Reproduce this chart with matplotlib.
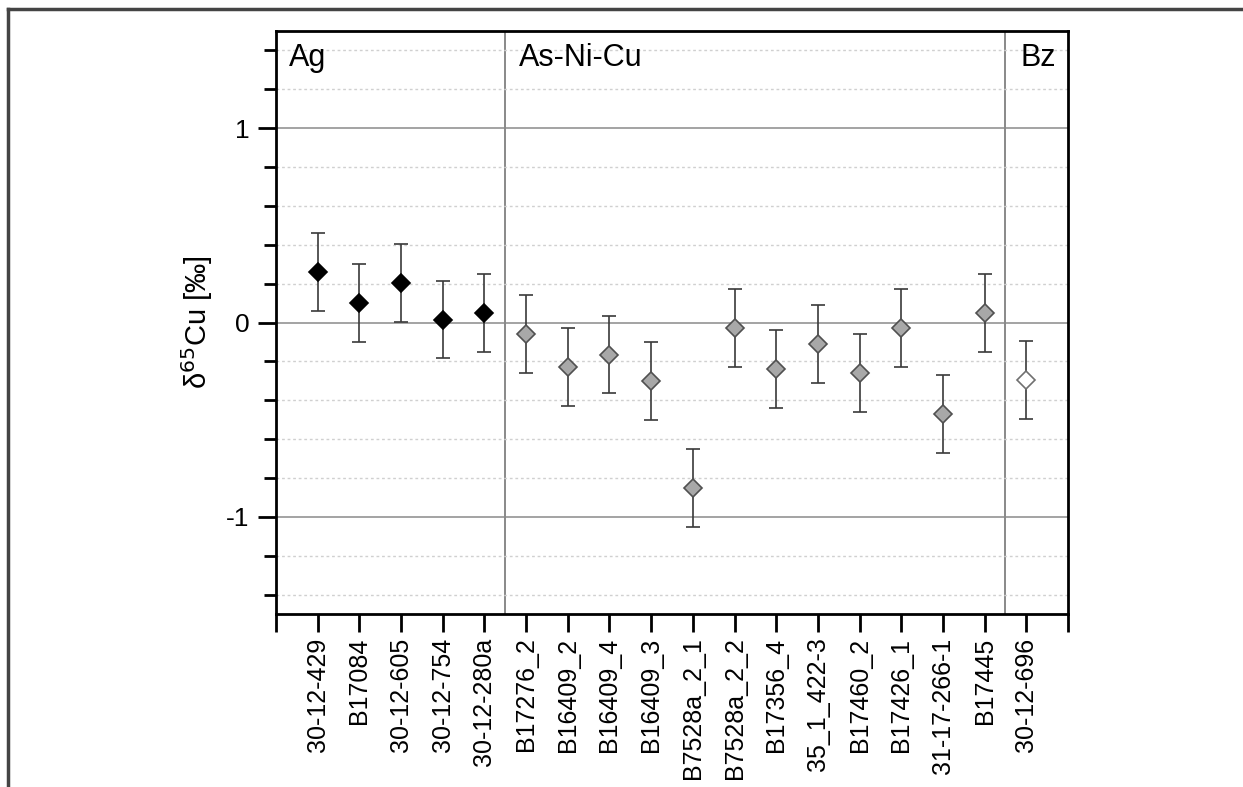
import matplotlib.pyplot as plt
from matplotlib.lines import Line2D
from matplotlib.ticker import MultipleLocator

plt.rcParams['font.family'] = ['Liberation Sans', 'DejaVu Sans']

ag_names = ["30-12-429", "B17084", "30-12-605", "30-12-754", "30-12-280a"]
ag_vals = [0.26, 0.10, 0.205, 0.015, 0.05]

asnicu_names = ["B17276_2", "B16409_2", "B16409_4", "B16409_3", "B7528a_2_1",
                "B7528a_2_2", "B17356_4", "35_1_422-3", "B17460_2", "B17426_1",
                "31-17-266-1", "B17445"]
asnicu_vals = [-0.06, -0.23, -0.165, -0.30, -0.85, -0.03, -0.24, -0.11,
               -0.26, -0.03, -0.47, 0.05]

bz_names = ["30-12-696"]
bz_vals = [-0.295]

err = 0.2


def main():
    fig = plt.figure(figsize=(12.43, 7.87), dpi=100)
    ax = fig.add_axes([276 / 1243, (787 - 614) / 787, (1068 - 276) / 1243, (614 - 31) / 787])

    names = ag_names + asnicu_names + bz_names
    n_ag = len(ag_names)
    n_as = len(asnicu_names)

    # grid
    ax.set_ylim(-1.5, 1.5)
    ax.set_xlim(0, len(names) + 1)
    ax.yaxis.set_major_locator(MultipleLocator(1))
    ax.yaxis.set_minor_locator(MultipleLocator(0.2))
    ax.grid(True, which="major", axis="y", color="#8a8a8a", lw=1.1, zorder=0)
    ax.grid(True, which="minor", axis="y", color="#d0d0d0", lw=1.0, ls=(0, (2, 2)), zorder=0)

    # group dividers
    div1 = n_ag + 0.5
    div2 = n_ag + n_as + 0.5
    ax.axvline(div1, color="#6a6a6a", lw=1.1, zorder=1)
    ax.axvline(div2, color="#6a6a6a", lw=1.1, zorder=1)

    groups = [
        (range(1, n_ag + 1), ag_vals, "black", "black", 9),
        (range(n_ag + 1, n_ag + n_as + 1), asnicu_vals, "#a8a8a8", "#505050", 9.5),
        (range(n_ag + n_as + 1, len(names) + 1), bz_vals, "white", "#707070", 9.5),
    ]
    for xs, vals, fc, ec, ms in groups:
        ax.errorbar(list(xs), vals, yerr=err, fmt="none", ecolor="#3a3a3a",
                    elinewidth=1.2, capsize=5, capthick=1.2, zorder=2)
        ax.plot(list(xs), vals, ls="none", marker="D", ms=ms, mfc=fc, mec=ec,
                mew=1.2, zorder=3)

    # group labels
    ax.text(0.3, 1.32, "Ag", fontsize=22)
    ax.text(div1 + 0.32, 1.32, "As-Ni-Cu", fontsize=22)
    ax.text(div2 + 0.35, 1.32, "Bz", fontsize=22)

    # x ticks
    ax.set_xticks(range(0, len(names) + 2))
    ax.set_xticklabels([""] + names + [""], rotation=90, fontsize=18)
    ax.tick_params(axis="x", direction="out", length=13, width=2, pad=4)
    ax.tick_params(axis="y", which="major", direction="out", length=13, width=2, labelsize=19, pad=6)
    ax.tick_params(axis="y", which="minor", direction="out", length=9, width=2)
    ax.set_yticks([-1, 0, 1])
    ax.set_yticklabels(["-1", "0", "1"])

    ax.set_ylabel("δ$^{65}$Cu [‰]", fontsize=21, labelpad=8)

    for s in ax.spines.values():
        s.set_linewidth(2)
        s.set_color("black")

    # outer frame
    fig.add_artist(Line2D([8 / 1243, 1], [1 - 9 / 787, 1 - 9 / 787], transform=fig.transFigure,
                          color="#444444", lw=2.5))
    fig.add_artist(Line2D([8 / 1243, 8 / 1243], [0, 1 - 9 / 787], transform=fig.transFigure,
                          color="#444444", lw=2.5))

    plt.savefig("out.png", dpi=100)
    plt.close()


if __name__ == "__main__":
    main()
